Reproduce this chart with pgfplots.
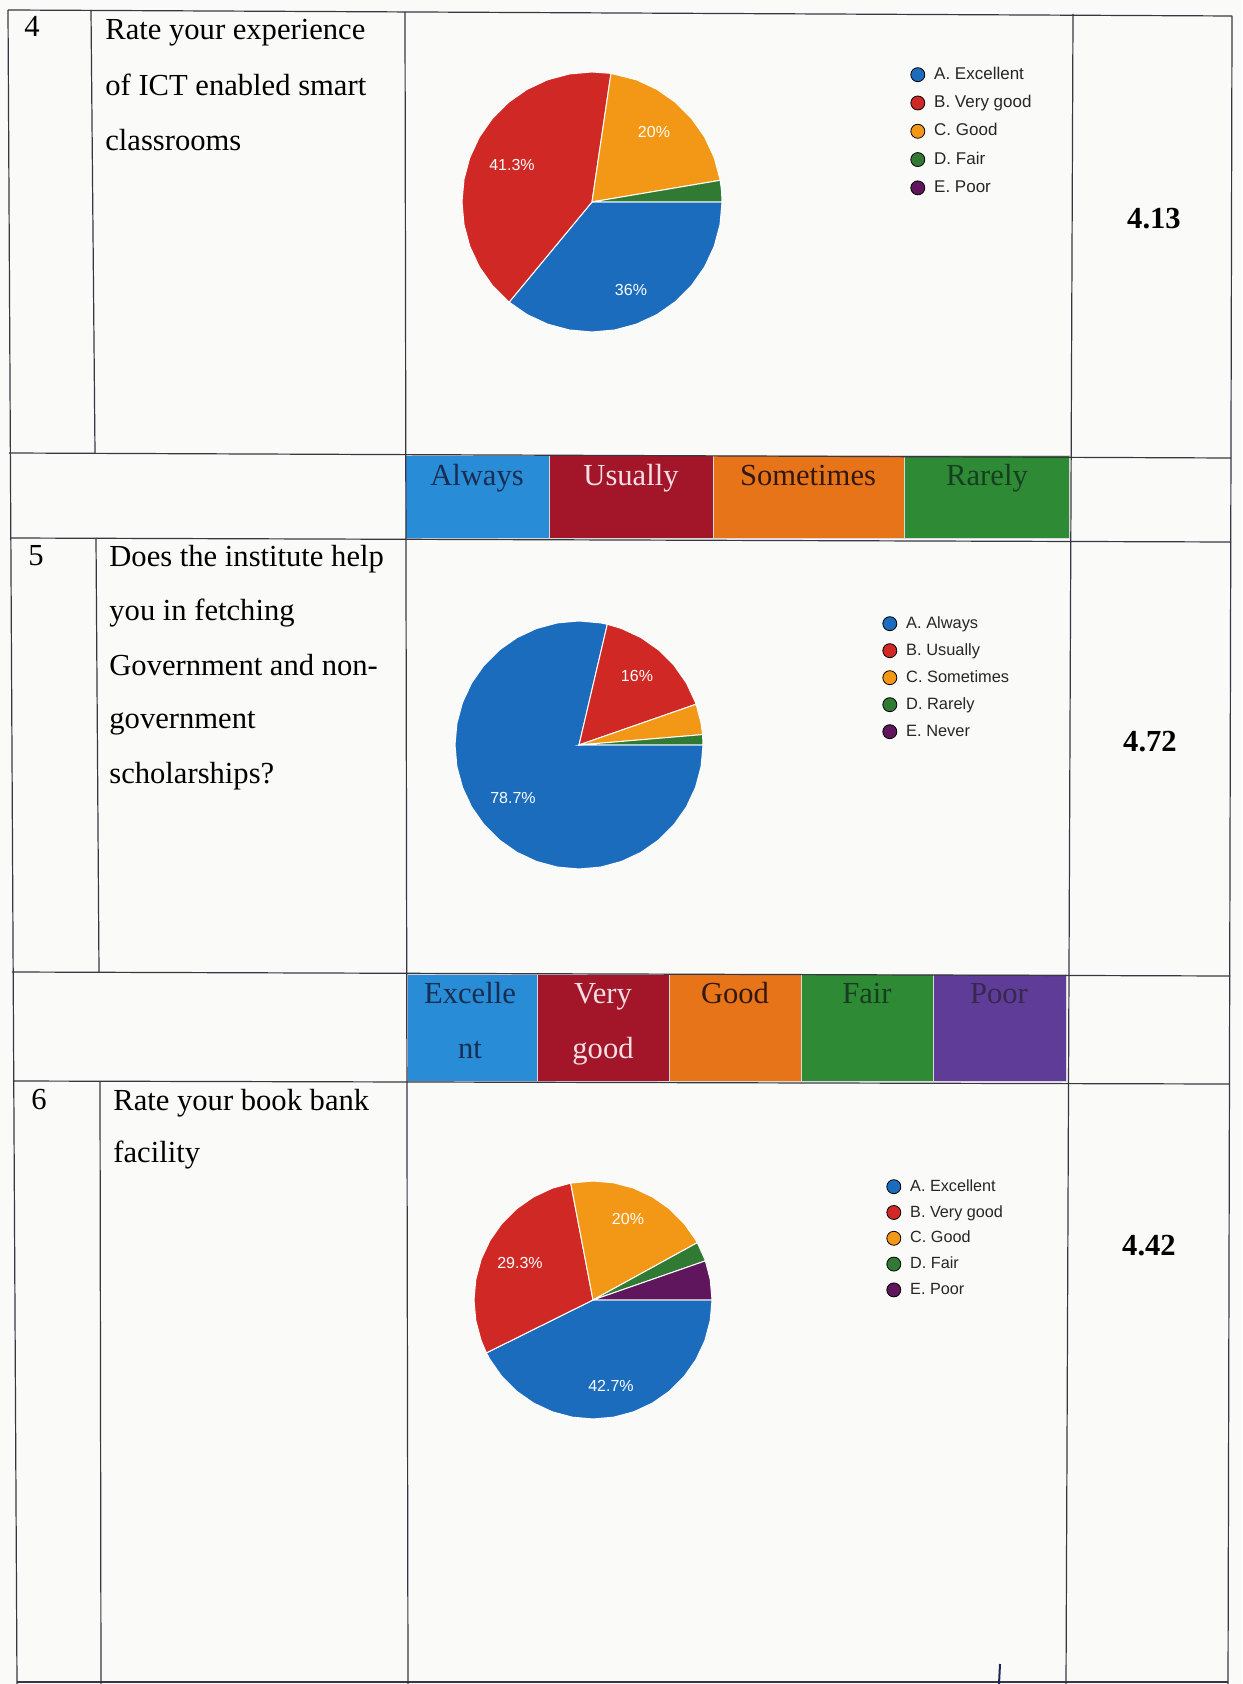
\documentclass[border=0pt]{standalone}
\usepackage{fontspec}
\setmainfont{Liberation Serif}
\newfontfamily\chartfont{Liberation Sans}
\usepackage{pgfplots}
\pgfplotsset{compat=1.18}

\definecolor{paper}{RGB}{250,250,249}
\definecolor{rule}{RGB}{55,55,65}
\definecolor{pblue}{RGB}{28,108,190}
\definecolor{pred}{RGB}{208,40,36}
\definecolor{porange}{RGB}{242,152,22}
\definecolor{pgreen}{RGB}{48,122,52}
\definecolor{ppurple}{RGB}{96,22,92}
\definecolor{bblue}{RGB}{40,140,214}
\definecolor{bred}{RGB}{163,22,42}
\definecolor{borange}{RGB}{232,116,26}
\definecolor{bgreen}{RGB}{46,138,52}
\definecolor{bpurple}{RGB}{94,60,152}
\definecolor{tnavy}{RGB}{25,45,80}
\definecolor{tpink}{RGB}{246,222,228}
\definecolor{tbrown}{RGB}{50,25,15}
\definecolor{tdgreen}{RGB}{22,62,32}
\definecolor{tdpurple}{RGB}{55,40,78}
\definecolor{pen}{RGB}{30,35,90}

\newcommand\body{\fontsize{15.3}{27.5}\selectfont}

\pgfplotsset{
  pie/.style={scale only axis, hide axis, anchor=center, clip=false,
    xmin=-1, xmax=1, ymin=-1, ymax=1, data cs=polar},
  slice/.style={fill=#1, draw=white, line width=0.5pt, mark=none},
  band/.style={fill=#1, draw=white!85!black, line width=0.4pt, mark=none},
  legbox/.style={scale only axis, hide axis, width=1pt, height=1pt,
    xmin=0, xmax=1, ymin=0, ymax=1, anchor=north west, legend cell align=left},
}

\begin{document}
\begin{tikzpicture}
\path[use as bounding box, fill=paper] (0pt,0pt) rectangle (621pt,842pt);

% Q4: 27, 31, 15, 2, 0 of 75 answers (angles clockwise from 3 o'clock)
\begin{axis}[pie, at={(296pt,741pt)}, width=130pt, height=130pt]
\addplot[slice=pblue] coordinates {(0,0) (0,1) (-10,1) (-20,1) (-30,1) (-40,1)
  (-50,1) (-60,1) (-70,1) (-80,1) (-90,1) (-100,1) (-110,1) (-120,1) (-129.6,1)} -- cycle;
\addplot[slice=pred] coordinates {(0,0) (-129.6,1) (-140,1) (-150,1) (-160,1)
  (-170,1) (-180,1) (-190,1) (-200,1) (-210,1) (-220,1) (-230,1) (-240,1)
  (-250,1) (-260,1) (-270,1) (-278.4,1)} -- cycle;
\addplot[slice=porange] coordinates {(0,0) (-278.4,1) (-290,1) (-300,1) (-310,1)
  (-320,1) (-330,1) (-340,1) (-350,1) (-350.4,1)} -- cycle;
\addplot[slice=pgreen] coordinates {(0,0) (-350.4,1) (-355,1) (-360,1)} -- cycle;
\end{axis}

% Q5: 59, 12, 3, 1, 0 of 75
\begin{axis}[pie, at={(289.5pt,469.5pt)}, width=124pt, height=124pt]
\addplot[slice=pblue] coordinates {(0,0) (0,1) (-10,1) (-20,1) (-30,1) (-40,1)
  (-50,1) (-60,1) (-70,1) (-80,1) (-90,1) (-100,1) (-110,1) (-120,1) (-130,1)
  (-140,1) (-150,1) (-160,1) (-170,1) (-180,1) (-190,1) (-200,1) (-210,1)
  (-220,1) (-230,1) (-240,1) (-250,1) (-260,1) (-270,1) (-280,1) (-283.2,1)} -- cycle;
\addplot[slice=pred] coordinates {(0,0) (-283.2,1) (-290,1) (-300,1) (-310,1)
  (-320,1) (-330,1) (-340,1) (-340.8,1)} -- cycle;
\addplot[slice=porange] coordinates {(0,0) (-340.8,1) (-350,1) (-355.2,1)} -- cycle;
\addplot[slice=pgreen] coordinates {(0,0) (-355.2,1) (-360,1)} -- cycle;
\end{axis}

% Q6: 32, 22, 15, 2, 4 of 75
\begin{axis}[pie, at={(296.5pt,192pt)}, width=119pt, height=119pt]
\addplot[slice=pblue] coordinates {(0,0) (0,1) (-10,1) (-20,1) (-30,1) (-40,1)
  (-50,1) (-60,1) (-70,1) (-80,1) (-90,1) (-100,1) (-110,1) (-120,1) (-130,1)
  (-140,1) (-150,1) (-153.6,1)} -- cycle;
\addplot[slice=pred] coordinates {(0,0) (-153.6,1) (-160,1) (-170,1) (-180,1)
  (-190,1) (-200,1) (-210,1) (-220,1) (-230,1) (-240,1) (-250,1) (-259.2,1)} -- cycle;
\addplot[slice=porange] coordinates {(0,0) (-259.2,1) (-270,1) (-280,1) (-290,1)
  (-300,1) (-310,1) (-320,1) (-330,1) (-331.2,1)} -- cycle;
\addplot[slice=pgreen] coordinates {(0,0) (-331.2,1) (-340,1) (-340.8,1)} -- cycle;
\addplot[slice=ppurple] coordinates {(0,0) (-340.8,1) (-350,1) (-360,1)} -- cycle;
\end{axis}

% page grid in scan pixels, y measured from the top
\begin{axis}[at={(0pt,0pt)}, anchor=south west, scale only axis,
  width=621pt, height=842pt, xmin=0, xmax=1242, ymin=0, ymax=1684,
  y dir=reverse, hide axis, clip=false]

% option colour bands
\addplot[band=bblue]   coordinates {(405,455) (549,455) (549,538) (405,538)} -- cycle;
\addplot[band=bred]    coordinates {(549,455) (713,455) (713,538) (549,538)} -- cycle;
\addplot[band=borange] coordinates {(713,455) (904,455) (904,538) (713,538)} -- cycle;
\addplot[band=bgreen]  coordinates {(904,455) (1069,455) (1069,538) (904,538)} -- cycle;

\addplot[band=bblue]   coordinates {(407,974) (537,974) (537,1081) (407,1081)} -- cycle;
\addplot[band=bred]    coordinates {(537,974) (669,974) (669,1081) (537,1081)} -- cycle;
\addplot[band=borange] coordinates {(669,974) (801,974) (801,1081) (669,1081)} -- cycle;
\addplot[band=bgreen]  coordinates {(801,974) (933,974) (933,1081) (801,1081)} -- cycle;
\addplot[band=bpurple] coordinates {(933,974) (1066,974) (1066,1081) (933,1081)} -- cycle;

% table rules
\begin{scope}[rule, line width=0.6pt]
\draw (8,10) -- (1232,16);
\draw (8,10) -- (17,1684);
\draw (1232,16) -- (1228,1684);
\draw (9,453) -- (1231,458);
\draw (10,538) -- (1231,542);
\draw (12,972) -- (1230,976);
\draw (13,1081) -- (1229,1084);
\draw (17,1682) -- (1228,1682);
\draw (91,10) -- (95,453);
\draw (96,538) -- (99,972);
\draw (100,1081) -- (101,1684);
\draw (405,12) -- (408,1684);
\draw (1073,14) -- (1066,1684);
\end{scope}
\draw[pen, line width=1pt] (1000,1664) -- (999,1684);

% question column
\begin{scope}[every node/.style={anchor=base west, inner sep=0pt, font=\body}]
\node at (24,37) {4};
\node at (105,40) {Rate your experience};
\node at (105,96) {of ICT enabled smart};
\node at (105,151) {classrooms};
\node at (28,565) {5};
\node at (109,566) {Does the institute help};
\node at (109,620) {you in fetching};
\node at (109,675) {Government and non-};
\node at (109,728) {government};
\node at (109,783) {scholarships?};
\node at (31,1109) {6};
\node at (113,1110) {Rate your book bank};
\node at (113,1162) {facility};
\end{scope}

% scores and band captions
\begin{scope}[every node/.style={anchor=base, inner sep=0pt, font=\body}]
\node[font=\body\bfseries] at (1154,229) {4.13};
\node[font=\body\bfseries] at (1150,751) {4.72};
\node[font=\body\bfseries] at (1149,1255) {4.42};
\node[text=tnavy]  at (477,485) {Always};
\node[text=tpink]  at (631,485) {Usually};
\node[text=tbrown] at (808,485) {Sometimes};
\node[text=tdgreen] at (987,485) {Rarely};
\node[text=tnavy]  at (470,1003) {Excelle};
\node[text=tnavy]  at (470,1058) {nt};
\node[text=tpink]  at (603,1003) {Very};
\node[text=tpink]  at (603,1058) {good};
\node[text=tbrown] at (735,1003) {Good};
\node[text=tdgreen] at (867,1003) {Fair};
\node[text=tdpurple] at (999,1003) {Poor};
\end{scope}

% slice percentages
\begin{scope}[every node/.style={inner sep=0pt, text=white,
    font=\chartfont\fontsize{8}{9}\selectfont}]
\node at (512,165) {41.3\%};
\node at (654,132) {20\%};
\node at (631,290) {36\%};
\node at (637,676) {16\%};
\node at (513,798) {78.7\%};
\node at (628,1219) {20\%};
\node at (520,1263) {29.3\%};
\node at (611,1386) {42.7\%};
\end{scope}
\end{axis}

% legends
\begin{axis}[legbox, at={(455pt,809pt)},
  legend image code/.code={\fill[#1] (0pt,0pt) circle (3.5pt);},
  legend style={at={(0,1)}, anchor=north west, draw=none, fill=none,
    inner sep=0pt, column sep=4.5pt, row sep=5.85pt, text=black!85,
    nodes={inner sep=0pt, text height=6.5pt, text depth=1.8pt},
    font=\chartfont\fontsize{8.5}{10}\selectfont}]
\addlegendimage{fill=pblue}
\addlegendimage{fill=pred}
\addlegendimage{fill=porange}
\addlegendimage{fill=pgreen}
\addlegendimage{fill=ppurple}
\legend{A. Excellent, B. Very good, C. Good, D. Fair, E. Poor}
\end{axis}

\begin{axis}[legbox, at={(441pt,534.5pt)},
  legend image code/.code={\fill[#1] (0pt,0pt) circle (3.5pt);},
  legend style={at={(0,1)}, anchor=north west, draw=none, fill=none,
    inner sep=0pt, column sep=4.5pt, row sep=5.2pt, text=black!85,
    nodes={inner sep=0pt, text height=6.5pt, text depth=1.8pt},
    font=\chartfont\fontsize{8.2}{10}\selectfont}]
\addlegendimage{fill=pblue}
\addlegendimage{fill=pred}
\addlegendimage{fill=porange}
\addlegendimage{fill=pgreen}
\addlegendimage{fill=ppurple}
\legend{A. Always, B. Usually, C. Sometimes, D. Rarely, E. Never}
\end{axis}

\begin{axis}[legbox, at={(443pt,253pt)},
  legend image code/.code={\fill[#1] (0pt,0pt) circle (3.5pt);},
  legend style={at={(0,1)}, anchor=north west, draw=none, fill=none,
    inner sep=0pt, column sep=4.5pt, row sep=4.6pt, text=black!85,
    nodes={inner sep=0pt, text height=6.5pt, text depth=1.8pt},
    font=\chartfont\fontsize{8.1}{10}\selectfont}]
\addlegendimage{fill=pblue}
\addlegendimage{fill=pred}
\addlegendimage{fill=porange}
\addlegendimage{fill=pgreen}
\addlegendimage{fill=ppurple}
\legend{A. Excellent, B. Very good, C. Good, D. Fair, E. Poor}
\end{axis}
\end{tikzpicture}
\end{document}
